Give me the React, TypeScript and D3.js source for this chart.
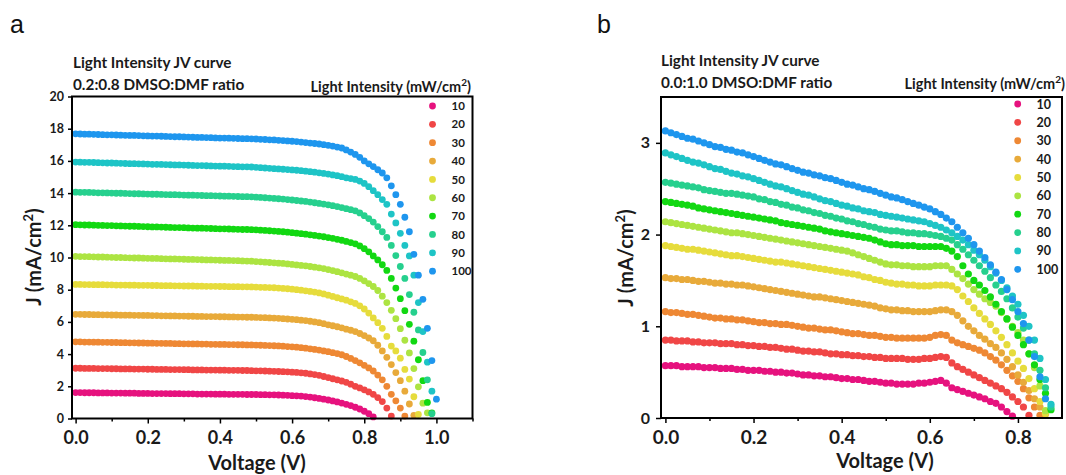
import * as d3 from "d3";
import { useEffect, useRef } from "react";

// light intensities (mW/cm2) and the colour of each series
const intensities = [10, 20, 30, 40, 50, 60, 70, 80, 90, 100];
const colors = ["#e6127e", "#f04646", "#ee8834", "#e8aa3a", "#e6dc3c", "#acE442", "#12d812", "#26d08e", "#1ec4c6", "#1e96ee"];

// voltage step between measured points (V)
const vStep = 0.0125;

// panel a : 0.2:0.8 DMSO:DMF, J in mA/cm2
const jvA10 = [1.61,1.61,1.6,1.6,1.6,1.59,1.59,1.59,1.58,1.58,1.58,1.57,1.57,1.57,1.56,1.56,1.56,1.55,1.55,1.55,1.55,1.54,1.54,1.54,1.53,1.53,1.53,1.52,1.52,1.52,1.52,1.51,1.51,1.51,1.5,1.5,1.5,1.5,1.49,1.49,1.49,1.48,1.48,1.47,1.47,1.46,1.45,1.44,1.42,1.41,1.39,1.36,1.33,1.29,1.25,1.2,1.15,1.09,1.03,0.96,0.88,0.8,0.7,0.59,0.45,0.3,0.1];
const jvA20 = [3.12,3.12,3.11,3.11,3.11,3.1,3.1,3.1,3.09,3.09,3.08,3.08,3.08,3.07,3.07,3.07,3.06,3.06,3.05,3.05,3.05,3.04,3.04,3.04,3.03,3.03,3.02,3.02,3.02,3.01,3.01,3.01,3.0,3.0,2.99,2.99,2.99,2.98,2.98,2.97,2.96,2.96,2.95,2.94,2.93,2.92,2.91,2.9,2.88,2.86,2.84,2.81,2.77,2.73,2.68,2.61,2.54,2.47,2.4,2.33,2.25,2.13,2.0,1.9,1.78,1.65,1.5,1.3,1.05,0.65,0.15];
const jvA30 = [4.76,4.76,4.75,4.75,4.74,4.74,4.73,4.73,4.72,4.72,4.71,4.71,4.7,4.7,4.69,4.69,4.68,4.68,4.67,4.67,4.66,4.66,4.65,4.65,4.64,4.64,4.63,4.63,4.62,4.62,4.61,4.61,4.6,4.6,4.59,4.59,4.58,4.58,4.57,4.57,4.56,4.55,4.54,4.53,4.52,4.51,4.49,4.47,4.45,4.43,4.4,4.37,4.33,4.29,4.25,4.2,4.15,4.09,4.03,3.96,3.85,3.73,3.6,3.46,3.3,3.14,2.95,2.7,2.4,2.0,1.5,1.1,0.65,0.15];
const jvA40 = [6.47,6.47,6.46,6.46,6.45,6.45,6.44,6.44,6.43,6.43,6.42,6.42,6.42,6.41,6.41,6.4,6.4,6.39,6.39,6.38,6.38,6.37,6.37,6.36,6.36,6.35,6.35,6.34,6.34,6.33,6.33,6.33,6.32,6.32,6.31,6.31,6.3,6.3,6.29,6.29,6.28,6.27,6.26,6.25,6.24,6.22,6.2,6.18,6.16,6.14,6.11,6.08,6.04,6.0,5.95,5.89,5.82,5.76,5.7,5.63,5.55,5.48,5.4,5.28,5.15,5.0,4.83,4.55,4.2,3.8,3.35,2.85,2.35,1.7,0.9,0.2];
const jvA50 = [8.33,8.33,8.32,8.32,8.31,8.31,8.31,8.3,8.3,8.29,8.29,8.29,8.28,8.28,8.27,8.27,8.27,8.26,8.26,8.25,8.25,8.25,8.24,8.24,8.23,8.23,8.23,8.22,8.22,8.21,8.21,8.21,8.2,8.2,8.19,8.19,8.19,8.18,8.18,8.17,8.16,8.15,8.14,8.13,8.12,8.1,8.08,8.06,8.03,8.0,7.97,7.93,7.89,7.85,7.8,7.74,7.66,7.58,7.5,7.43,7.35,7.25,7.15,7.0,6.8,6.55,6.25,5.95,5.6,5.1,4.5,4.2,3.75,3.05,2.45,1.35,0.25];
const jvA60 = [10.07,10.06,10.06,10.05,10.04,10.03,10.03,10.02,10.01,10.0,10.0,9.99,9.98,9.97,9.97,9.96,9.95,9.94,9.94,9.93,9.92,9.91,9.91,9.9,9.89,9.88,9.88,9.87,9.86,9.85,9.85,9.84,9.83,9.82,9.82,9.81,9.8,9.79,9.78,9.77,9.75,9.73,9.71,9.69,9.67,9.65,9.63,9.6,9.57,9.54,9.51,9.48,9.44,9.4,9.36,9.31,9.25,9.19,9.12,9.05,8.97,8.9,8.82,8.7,8.55,8.38,8.2,7.95,7.6,7.2,6.72,6.2,5.58,4.86,4.07,3.1,1.97,0.95,0.35];
const jvA70 = [12.04,12.03,12.02,12.02,12.01,12.0,11.99,11.98,11.98,11.97,11.96,11.95,11.94,11.94,11.93,11.92,11.91,11.9,11.9,11.89,11.88,11.87,11.86,11.86,11.85,11.84,11.83,11.82,11.82,11.81,11.8,11.79,11.78,11.78,11.77,11.76,11.75,11.74,11.74,11.73,11.72,11.7,11.68,11.66,11.64,11.62,11.6,11.57,11.54,11.51,11.48,11.45,11.41,11.37,11.33,11.29,11.24,11.19,11.13,11.07,11.0,10.93,10.85,10.72,10.55,10.35,10.1,9.85,9.55,9.2,8.7,8.1,7.44,6.7,5.85,4.8,3.65,2.35,1.0,0.35];
const jvA80 = [14.06,14.05,14.05,14.04,14.03,14.02,14.02,14.01,14.0,13.99,13.99,13.98,13.97,13.96,13.96,13.95,13.94,13.93,13.93,13.92,13.91,13.9,13.9,13.89,13.88,13.87,13.87,13.86,13.85,13.84,13.84,13.83,13.82,13.81,13.81,13.8,13.79,13.78,13.78,13.77,13.75,13.73,13.71,13.69,13.67,13.65,13.63,13.6,13.57,13.54,13.51,13.48,13.44,13.4,13.36,13.32,13.27,13.22,13.16,13.1,13.03,12.97,12.9,12.77,12.6,12.42,12.2,11.92,11.6,11.25,10.75,10.12,9.44,8.7,7.7,6.6,5.5,4.1,2.4,0.3];
const jvA90 = [15.93,15.92,15.91,15.91,15.9,15.89,15.88,15.87,15.87,15.86,15.85,15.84,15.83,15.83,15.82,15.81,15.8,15.79,15.79,15.78,15.77,15.76,15.75,15.75,15.74,15.73,15.72,15.71,15.71,15.7,15.69,15.68,15.67,15.67,15.66,15.65,15.64,15.63,15.63,15.62,15.6,15.58,15.56,15.54,15.52,15.5,15.48,15.46,15.44,15.42,15.39,15.36,15.33,15.3,15.26,15.22,15.18,15.13,15.08,15.02,14.95,14.9,14.85,14.75,14.6,14.4,14.15,13.9,13.6,13.3,12.7,12.15,11.5,10.75,10.1,8.9,7.2,5.4,3.5,1.7];
const jvA100 = [17.68,17.67,17.66,17.66,17.65,17.64,17.63,17.62,17.62,17.61,17.6,17.59,17.58,17.58,17.57,17.56,17.55,17.54,17.54,17.53,17.52,17.51,17.5,17.5,17.49,17.48,17.47,17.46,17.46,17.45,17.44,17.43,17.42,17.42,17.41,17.4,17.39,17.38,17.38,17.37,17.36,17.34,17.33,17.31,17.3,17.28,17.26,17.24,17.22,17.2,17.17,17.14,17.11,17.08,17.05,17.01,16.97,16.92,16.86,16.8,16.68,16.55,16.4,16.22,16.0,15.82,15.65,15.45,15.25,14.95,14.45,13.9,13.3,12.5,11.6,10.2,8.9,7.4,5.6,3.6,1.2];

// panel b : 0.0:1.0 DMSO:DMF
const jvB10 = [0.57,0.57,0.57,0.56,0.56,0.56,0.56,0.55,0.55,0.55,0.54,0.54,0.54,0.53,0.53,0.52,0.52,0.52,0.51,0.51,0.5,0.5,0.49,0.49,0.48,0.47,0.47,0.46,0.46,0.45,0.45,0.44,0.43,0.43,0.42,0.42,0.41,0.4,0.4,0.39,0.38,0.38,0.37,0.37,0.37,0.37,0.38,0.38,0.39,0.4,0.41,0.38,0.33,0.31,0.29,0.27,0.25,0.23,0.21,0.18,0.16,0.12,0.07,0.02];
const jvB20 = [0.85,0.85,0.84,0.84,0.84,0.83,0.83,0.82,0.82,0.82,0.81,0.81,0.81,0.8,0.8,0.79,0.79,0.78,0.78,0.77,0.77,0.76,0.75,0.75,0.74,0.73,0.73,0.72,0.72,0.71,0.7,0.7,0.69,0.69,0.68,0.68,0.67,0.67,0.66,0.66,0.65,0.65,0.65,0.65,0.64,0.64,0.64,0.65,0.65,0.66,0.67,0.66,0.6,0.56,0.53,0.5,0.47,0.44,0.41,0.38,0.35,0.32,0.28,0.23,0.18,0.12,0.03];
const jvB30 = [1.16,1.15,1.15,1.14,1.13,1.13,1.12,1.11,1.1,1.09,1.09,1.08,1.08,1.07,1.07,1.06,1.05,1.04,1.04,1.03,1.03,1.02,1.02,1.01,1.0,0.99,0.98,0.98,0.97,0.96,0.96,0.95,0.94,0.93,0.92,0.92,0.91,0.9,0.9,0.89,0.88,0.88,0.87,0.87,0.87,0.87,0.87,0.87,0.88,0.9,0.91,0.9,0.85,0.82,0.8,0.78,0.76,0.74,0.71,0.67,0.63,0.58,0.52,0.46,0.4,0.32,0.22,0.12,0.03];
const jvB40 = [1.53,1.52,1.52,1.51,1.51,1.5,1.49,1.49,1.48,1.47,1.47,1.46,1.46,1.45,1.45,1.44,1.43,1.42,1.41,1.4,1.39,1.38,1.37,1.36,1.35,1.34,1.33,1.32,1.32,1.31,1.3,1.29,1.28,1.27,1.26,1.25,1.24,1.23,1.22,1.2,1.19,1.18,1.18,1.17,1.17,1.16,1.16,1.16,1.16,1.17,1.18,1.18,1.16,1.12,1.06,1.0,0.95,0.9,0.86,0.81,0.77,0.71,0.64,0.56,0.47,0.39,0.3,0.21,0.12,0.04];
const jvB50 = [1.88,1.87,1.86,1.85,1.84,1.84,1.83,1.82,1.81,1.8,1.79,1.78,1.77,1.77,1.76,1.75,1.74,1.73,1.72,1.71,1.7,1.7,1.69,1.68,1.67,1.66,1.65,1.64,1.63,1.62,1.61,1.6,1.59,1.58,1.57,1.56,1.54,1.53,1.51,1.5,1.48,1.47,1.46,1.46,1.45,1.45,1.44,1.44,1.44,1.45,1.45,1.45,1.44,1.4,1.33,1.27,1.2,1.14,1.08,1.02,0.95,0.88,0.8,0.71,0.62,0.54,0.43,0.32,0.18,0.05];
const jvB60 = [2.14,2.13,2.12,2.11,2.1,2.09,2.08,2.07,2.06,2.05,2.04,2.03,2.02,2.02,2.01,2.0,1.99,1.98,1.97,1.96,1.95,1.94,1.93,1.92,1.91,1.9,1.89,1.88,1.87,1.86,1.85,1.84,1.83,1.82,1.8,1.78,1.76,1.74,1.72,1.7,1.68,1.67,1.67,1.66,1.66,1.65,1.65,1.65,1.65,1.66,1.66,1.66,1.62,1.57,1.52,1.46,1.4,1.35,1.3,1.26,1.22,1.15,1.08,1.0,0.93,0.85,0.7,0.55,0.35,0.08];
const jvB70 = [2.36,2.35,2.34,2.33,2.32,2.31,2.29,2.28,2.27,2.26,2.25,2.24,2.23,2.22,2.21,2.2,2.19,2.18,2.17,2.16,2.15,2.13,2.12,2.11,2.1,2.09,2.08,2.07,2.06,2.04,2.03,2.02,2.01,2.0,1.99,1.98,1.97,1.96,1.94,1.92,1.9,1.89,1.89,1.88,1.88,1.88,1.87,1.87,1.87,1.87,1.87,1.85,1.82,1.76,1.66,1.57,1.5,1.45,1.39,1.32,1.24,1.16,1.08,0.99,0.9,0.8,0.7,0.58,0.42,0.27,0.09];
const jvB80 = [2.57,2.56,2.55,2.54,2.53,2.52,2.51,2.49,2.48,2.47,2.46,2.45,2.45,2.44,2.43,2.42,2.41,2.39,2.38,2.36,2.35,2.33,2.32,2.3,2.29,2.27,2.26,2.24,2.23,2.21,2.2,2.18,2.17,2.15,2.14,2.12,2.11,2.09,2.08,2.06,2.05,2.04,2.04,2.03,2.02,2.02,2.01,2.01,2.0,1.99,1.98,1.96,1.94,1.89,1.84,1.78,1.72,1.66,1.6,1.53,1.45,1.38,1.3,1.2,1.1,0.98,0.85,0.7,0.52,0.33,0.12];
const jvB90 = [2.89,2.87,2.85,2.83,2.81,2.79,2.78,2.76,2.74,2.72,2.71,2.69,2.67,2.66,2.64,2.63,2.61,2.59,2.57,2.55,2.53,2.52,2.5,2.48,2.46,2.44,2.43,2.41,2.39,2.37,2.36,2.34,2.32,2.31,2.29,2.28,2.26,2.25,2.24,2.22,2.21,2.2,2.19,2.18,2.17,2.16,2.15,2.14,2.12,2.1,2.08,2.05,2.02,1.98,1.94,1.89,1.83,1.78,1.72,1.65,1.58,1.5,1.42,1.33,1.24,1.12,1.0,0.85,0.65,0.42,0.15];
const jvB100 = [3.13,3.11,3.09,3.07,3.05,3.04,3.02,3.0,2.98,2.96,2.95,2.93,2.92,2.9,2.89,2.87,2.85,2.83,2.81,2.79,2.77,2.76,2.74,2.72,2.7,2.68,2.67,2.65,2.64,2.62,2.61,2.59,2.57,2.55,2.54,2.52,2.5,2.49,2.47,2.45,2.43,2.41,2.4,2.38,2.36,2.34,2.32,2.3,2.28,2.25,2.22,2.18,2.14,2.08,2.02,1.96,1.89,1.82,1.75,1.67,1.59,1.51,1.4,1.29,1.16,1.03,0.85,0.67,0.45,0.21];

const seriesA = [jvA10, jvA20, jvA30, jvA40, jvA50, jvA60, jvA70, jvA80, jvA90, jvA100];
const seriesB = [jvB10, jvB20, jvB30, jvB40, jvB50, jvB60, jvB70, jvB80, jvB90, jvB100];

// tick values
const xTicksA = [0, 0.2, 0.4, 0.6, 0.8, 1.0];
const xMinorA = [0.1, 0.3, 0.5, 0.7, 0.9, 1.1];
const yTicksA = [0, 2, 4, 6, 8, 10, 12, 14, 16, 18, 20];
const xTicksB = [0, 0.2, 0.4, 0.6, 0.8];
const xMinorB = [0.1, 0.3, 0.5, 0.7];
const yTicksB = [0, 1, 2, 3];

const FONT = "Lato, 'Open Sans', sans-serif";
const INK = "#1a1a1a";

const panels = [
  {
    letter: "a", letterX: 10,
    title1: "Light Intensity JV curve", title2: "0.2:0.8 DMSO:DMF ratio", titleX: 73, titleY: [68, 90],
    left: 72, right: 472.5, top: 96.5, bottom: 418.5,
    xDomain: [-0.01, 1.1], yDomain: [0, 20],
    xTicks: xTicksA, xMinor: xMinorA, yTicks: yTicksA,
    xFont: 18, yFont: 12.5, yTick: 4, yPad: 4,
    xTitleX: 257, xTitleY: 470, yTitleX: 41, yTitleY: 257,
    series: seriesA, r: 3.4,
    legTitleX: 471, legTitleY: 92, legTitleFont: 14.5,
    legX: 432.5, legY: 106, legStep: 18.35, legTextX: 451.5, legFont: 11.5,
  },
  {
    letter: "b", letterX: 597,
    title1: "Light Intensity JV curve", title2: "0.0:1.0 DMSO:DMF ratio", titleX: 661, titleY: [66, 88],
    left: 661, right: 1062, top: 97, bottom: 418,
    xDomain: [-0.01, 0.9], yDomain: [0, 3.5],
    xTicks: xTicksB, xMinor: xMinorB, yTicks: yTicksB,
    xFont: 19, yFont: 16, yTick: 5, yPad: 6,
    xTitleX: 885, xTitleY: 468, yTitleX: 633, yTitleY: 258,
    series: seriesB, r: 3.6,
    legTitleX: 1065, legTitleY: 88.5, legTitleFont: 14.5,
    legX: 1017.7, legY: 104, legStep: 18.37, legTextX: 1036.5, legFont: 12.5,
  },
];

function drawPanel(svg, p) {
  const g = svg.append("g");
  const x = d3.scaleLinear().domain(p.xDomain).range([p.left, p.right]);
  const y = d3.scaleLinear().domain(p.yDomain).range([p.bottom, p.top]);

  p.series.forEach((vals, i) => {
    g.append("g")
      .selectAll("circle")
      .data(vals)
      .join("circle")
      .attr("cx", (d, k) => x(k * vStep))
      .attr("cy", d => y(d))
      .attr("r", p.r)
      .attr("fill", colors[i]);
  });

  g.append("rect")
    .attr("x", p.left).attr("y", p.top)
    .attr("width", p.right - p.left).attr("height", p.bottom - p.top)
    .attr("fill", "none").attr("stroke", "#000").attr("stroke-width", 2);

  const xa = g.append("g")
    .attr("transform", `translate(0,${p.bottom})`)
    .call(d3.axisBottom(x).tickValues(p.xTicks).tickSize(5).tickPadding(8).tickFormat(d3.format(".1f")));
  const xm = g.append("g")
    .attr("transform", `translate(0,${p.bottom})`)
    .call(d3.axisBottom(x).tickValues(p.xMinor).tickSize(3).tickFormat(() => ""));
  const ya = g.append("g")
    .attr("transform", `translate(${p.left},0)`)
    .call(d3.axisLeft(y).tickValues(p.yTicks).tickSize(p.yTick).tickPadding(p.yPad).tickFormat(d3.format("d")));

  [xa, xm, ya].forEach(a => {
    a.select(".domain").remove();
    a.selectAll("line").attr("stroke", "#000").attr("stroke-width", 1.5);
  });
  xa.selectAll("text").attr("font-family", FONT).attr("font-weight", 700).attr("font-size", p.xFont).attr("fill", INK);
  ya.selectAll("text").attr("font-family", FONT).attr("font-weight", 700).attr("font-size", p.yFont).attr("fill", INK);

  // axis titles
  g.append("text")
    .attr("x", p.xTitleX).attr("y", p.xTitleY)
    .attr("text-anchor", "middle")
    .attr("font-family", FONT).attr("font-weight", 700).attr("font-size", 20).attr("fill", INK)
    .text("Voltage (V)");

  const yt = g.append("text")
    .attr("transform", `translate(${p.yTitleX},${p.yTitleY}) rotate(-90)`)
    .attr("text-anchor", "middle")
    .attr("font-family", FONT).attr("font-weight", 700).attr("font-size", 20).attr("fill", INK);
  yt.append("tspan").text("J (mA/cm");
  yt.append("tspan").attr("font-size", 13).attr("dy", -8).text("2");
  yt.append("tspan").attr("dy", 8).text(")");

  // titles
  p.titleY.forEach((ty, i) => {
    g.append("text")
      .attr("x", p.titleX).attr("y", ty)
      .attr("font-family", FONT).attr("font-weight", 700).attr("font-size", 15.3).attr("fill", INK)
      .text(i === 0 ? p.title1 : p.title2);
  });

  g.append("text")
    .attr("x", p.letterX).attr("y", 33)
    .attr("font-family", "'Liberation Sans', Arial, sans-serif").attr("font-size", 25).attr("fill", "#111")
    .text(p.letter);

  // legend
  const lt = g.append("text")
    .attr("x", p.legTitleX).attr("y", p.legTitleY)
    .attr("text-anchor", "end")
    .attr("font-family", FONT).attr("font-weight", 700).attr("font-size", p.legTitleFont).attr("fill", INK);
  lt.append("tspan").text("Light Intensity (mW/cm");
  lt.append("tspan").attr("font-size", 10).attr("dy", -6).text("2");
  lt.append("tspan").attr("dy", 6).text(")");

  const leg = g.append("g")
    .selectAll("g")
    .data(intensities)
    .join("g")
    .attr("transform", (d, i) => `translate(0,${p.legY + i * p.legStep})`);
  leg.append("circle").attr("cx", p.legX).attr("cy", 0).attr("r", 3.4).attr("fill", (d, i) => colors[i]);
  leg.append("text")
    .attr("x", p.legTextX).attr("y", 0).attr("dy", "0.36em")
    .attr("font-family", FONT).attr("font-weight", 700).attr("font-size", p.legFont).attr("fill", INK)
    .text(d => d);
}

const App = () => {
  const ref = useRef(null);

  useEffect(() => {
    const svg = d3.select(ref.current);
    svg.selectAll("*").remove();
    panels.forEach(p => drawPanel(svg, p));
  }, []);

  return (
    <svg
      ref={ref}
      width={1066}
      height={475}
      style={{ position: "absolute", left: 0, top: 0, background: "#fff" }}
    />
  );
};

export default App;
